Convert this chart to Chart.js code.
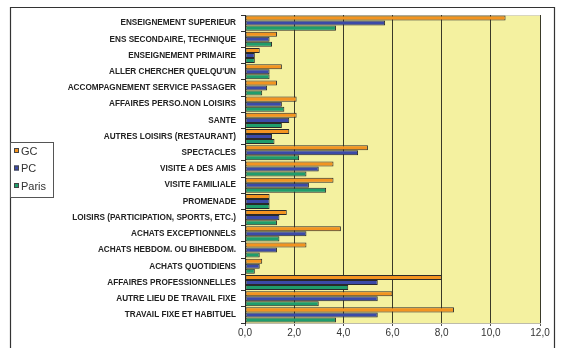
<!DOCTYPE html>
<html>
<head>
<meta charset="utf-8">
<script src="https://cdn.jsdelivr.net/npm/chart.js@4/dist/chart.umd.min.js"></script>
<style>
  html, body { margin: 0; padding: 0; background: #ffffff; }
  #wrap { position: relative; width: 562px; height: 348px; }
  canvas { display: block; }
</style>
</head>
<body>
<div id="wrap"><canvas id="c" width="562" height="348"></canvas></div>
<script>
// Motifs de déplacement, listés de haut en bas
const categories = [
  "ENSEIGNEMENT SUPERIEUR",
  "ENS SECONDAIRE, TECHNIQUE",
  "ENSEIGNEMENT PRIMAIRE",
  "ALLER CHERCHER QUELQU'UN",
  "ACCOMPAGNEMENT SERVICE PASSAGER",
  "AFFAIRES PERSO.NON LOISIRS",
  "SANTE",
  "AUTRES LOISIRS (RESTAURANT)",
  "SPECTACLES",
  "VISITE A DES AMIS",
  "VISITE FAMILIALE",
  "PROMENADE",
  "LOISIRS (PARTICIPATION, SPORTS, ETC.)",
  "ACHATS EXCEPTIONNELS",
  "ACHATS HEBDOM. OU BIHEBDOM.",
  "ACHATS QUOTIDIENS",
  "AFFAIRES PROFESSIONNELLES",
  "AUTRE LIEU DE TRAVAIL FIXE",
  "TRAVAIL FIXE ET HABITUEL"
];

const seriesNames = ["GC", "PC", "Paris"];

const gc    = [10.6, 1.3, 0.6, 1.5, 1.3, 2.1, 2.1, 1.8, 5.0, 3.6, 3.6, 1.0, 1.7, 3.9, 2.5, 0.7, 8.0, 6.0, 8.5];
const pc    = [5.7, 1.0, 0.4, 1.0, 0.9, 1.5, 1.8, 1.1, 4.6, 3.0, 2.6, 1.0, 1.4, 2.5, 1.3, 0.6, 5.4, 5.4, 5.4];
const paris = [3.7, 1.1, 0.4, 1.0, 0.7, 1.6, 1.5, 1.2, 2.2, 2.5, 3.3, 1.0, 1.3, 1.4, 0.6, 0.4, 4.2, 3.0, 3.7];

const xTicks = [0, 2, 4, 6, 8, 10, 12];

const colors = ["#f39420", "#3b4aa8", "#1f9d6c"];

// Fond jaune de la zone de tracé + cadre extérieur
const framePlugin = {
  id: 'frame',
  beforeDraw(chart) {
    const { ctx, chartArea: a } = chart;
    ctx.save();
    ctx.fillStyle = '#ffffff';
    ctx.fillRect(0, 0, chart.width, chart.height);
    ctx.fillStyle = '#f4f1a0';
    ctx.fillRect(a.left, a.top, a.right - a.left, a.bottom - a.top);
    ctx.strokeStyle = '#d8d6c0';
    ctx.lineWidth = 1;
    ctx.strokeRect(a.left + 0.5, a.top + 0.5, a.right - a.left, a.bottom - a.top);
    ctx.restore();
  },
  afterDraw(chart) {
    const { ctx } = chart;
    ctx.save();
    // cadre du graphique
    ctx.strokeStyle = '#333333';
    ctx.lineWidth = 1.2;
    ctx.beginPath();
    ctx.moveTo(10.5, 352);
    ctx.lineTo(10.5, 7.5);
    ctx.lineTo(554.5, 7.5);
    ctx.lineTo(554.5, 352);
    ctx.stroke();

    // légende
    const lx = 10.5, ly = 142.5, lw = 43, lh = 55;
    ctx.fillStyle = '#ffffff';
    ctx.fillRect(lx, ly, lw, lh);
    ctx.strokeStyle = '#555555';
    ctx.lineWidth = 1;
    ctx.strokeRect(lx, ly, lw, lh);
    ctx.font = '11px "Liberation Sans", Arial, sans-serif';
    ctx.textBaseline = 'middle';
    ctx.textAlign = 'left';
    chart.data.datasets.forEach((ds, i) => {
      const cy = 151 + i * 17.5;
      ctx.fillStyle = ds.backgroundColor;
      ctx.fillRect(14, cy - 3, 5, 5);
      ctx.strokeStyle = '#444';
      ctx.strokeRect(14.5, cy - 2.5, 4, 4);
      ctx.fillStyle = '#333333';
      ctx.fillText(ds.label, 21, cy + 0.5);
    });
    ctx.restore();
  }
};

const datasets = [gc, pc, paris].map((vals, i) => ({
  label: seriesNames[i],
  data: vals,
  backgroundColor: colors[i],
  borderColor: '#2a2a2a',
  borderWidth: 1,
  borderSkipped: false,
  categoryPercentage: 0.93,
  barPercentage: 1.0
}));

new Chart(document.getElementById('c'), {
  type: 'bar',
  data: { labels: categories, datasets },
  plugins: [framePlugin],
  options: {
    indexAxis: 'y',
    responsive: false,
    animation: false,
    layout: { padding: { top: 15, right: 22, bottom: 0, left: 0 } },
    plugins: {
      legend: { display: false },
      tooltip: { enabled: false }
    },
    scales: {
      x: {
        min: 0,
        max: 12,
        afterFit(scale) { scale.height = 25; },
        afterBuildTicks(scale) { scale.ticks = xTicks.map(v => ({ value: v })); },
        ticks: {
          padding: 1,
          color: '#333333',
          font: { family: '"Liberation Sans", Arial, sans-serif', size: 10 },
          callback: v => v.toFixed(1).replace('.', ',')
        },
        grid: {
          color: '#3a3a28',
          lineWidth: 1,
          tickLength: 3,
          tickColor: '#555555'
        },
        border: { display: true, color: '#bdbbaa' }
      },
      y: {
        afterFit(scale) { scale.width = 245; },
        ticks: {
          padding: 5,
          color: '#222222',
          autoSkip: false,
          font: { family: '"Liberation Sans", Arial, sans-serif', size: 8.2, weight: 'bold' }
        },
        grid: {
          offset: true,
          drawOnChartArea: false,
          tickLength: 4,
          tickColor: '#333333'
        },
        border: { display: true, color: '#222222', width: 1 }
      }
    }
  }
});
</script>
</body>
</html>
